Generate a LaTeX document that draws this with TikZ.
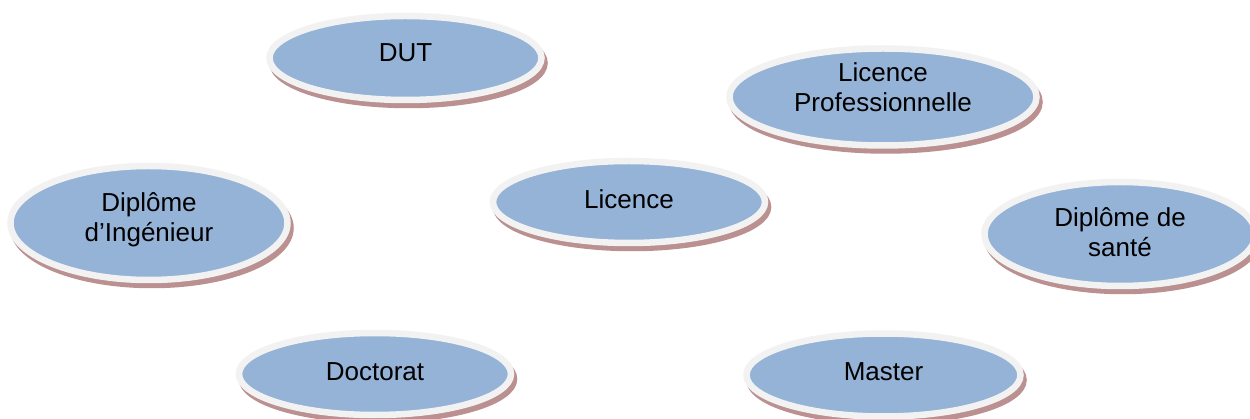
\documentclass[tikz,border=0pt]{standalone}
\usepackage{fontspec}
\setmainfont{Liberation Sans}
\definecolor{bubblue}{HTML}{95B3D7}
\definecolor{bubring}{HTML}{F2F2F2}
\definecolor{bubshadow}{RGB}{186,144,144}
\tikzset{
  bub/.style={ellipse, draw=bubring, fill=bubblue, line width=6.5pt, inner sep=0pt,
    preaction={draw=bubshadow, fill=bubshadow, line width=6.5pt,
      transform canvas={shift={(3pt,-5pt)}}}},
  lab/.style={font=\fontsize{26}{30}\selectfont, align=center, text=black, inner sep=0pt}
}
\usetikzlibrary{shapes.geometric}
\begin{document}
\begin{tikzpicture}[x=1pt,y=-1pt]
\fill[white] (0,0) rectangle (1250,419);
\useasboundingbox (0,0) rectangle (1250,419);
\clip (0,0) rectangle (1250,419);
\node[bub, minimum width=272pt, minimum height=84pt,
  label={[lab, yshift=5pt]center:DUT}] (dut) at (405.5,58) {};
\node[bub, minimum width=307pt, minimum height=97pt,
  label={[lab, yshift=10pt]center:Licence\\Professionnelle}] (lpro) at (883,97) {};
\node[bub, minimum width=272pt, minimum height=82pt,
  label={[lab, yshift=2.5pt]center:Licence}] (lic) at (629,202) {};
\node[bub, minimum width=277pt, minimum height=114pt,
  label={[lab, yshift=3pt]center:Diplôme\\d’Ingénieur}] (ing) at (149,223) {};
\node[bub, minimum width=271pt, minimum height=104pt,
  label={[lab, yshift=1.5pt]center:Diplôme de\\santé}] (sante) at (1120,234) {};
\node[bub, minimum width=272pt, minimum height=82pt,
  label={[lab, yshift=2pt]center:Doctorat}] (doc) at (375,374) {};
\node[bub, minimum width=274pt, minimum height=83pt,
  label={[lab, yshift=3pt]center:Master}] (master) at (883.5,375) {};
\end{tikzpicture}
\end{document}
